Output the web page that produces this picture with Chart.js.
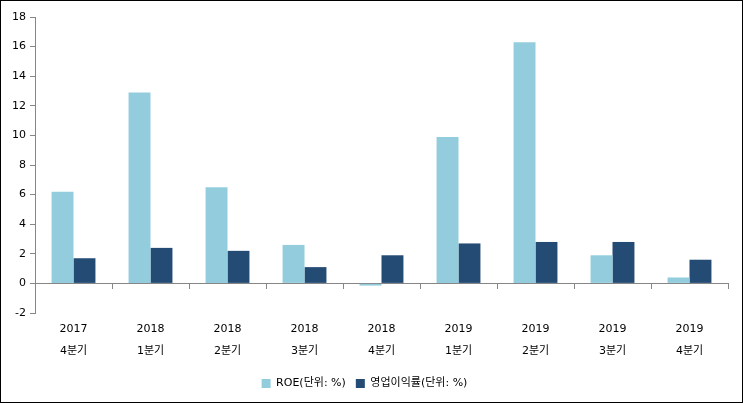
<!DOCTYPE html>
<html>
<head>
<meta charset="utf-8">
<script src="https://cdn.jsdelivr.net/npm/chart.js@4.4.1/dist/chart.umd.min.js"></script>
<style>
    html, body { margin: 0; padding: 0; background: #fff; }
    #wrap {
        width: 743px;
        height: 403px;
        box-sizing: border-box;
        border: 1px solid #000;
        position: relative;
    }
</style>
</head>
<body>
<div id="wrap"><canvas id="chart"></canvas></div>
<script>
// 분기 라벨
const years = ['2017', '2018', '2018', '2018', '2018', '2019', '2019', '2019', '2019'];
const quarters = ['4분기', '1분기', '2분기', '3분기', '4분기', '1분기', '2분기', '3분기', '4분기'];

// 시리즈 값 (단위: %)
const roeValues = [6.2, 12.9, 6.5, 2.6, -0.15, 9.9, 16.3, 1.9, 0.4];
const opMarginValues = [1.7, 2.4, 2.2, 1.1, 1.9, 2.7, 2.8, 2.8, 1.6];

// 축 눈금
const yMin = -2;
const yMax = 18;
const yStep = 2;

const labels = years.map((y, i) => [y, quarters[i]]);
const axisColor = '#868686';
const fontFamily = '"DejaVu Sans", "Noto Sans CJK KR", sans-serif';

const ctx = document.getElementById('chart').getContext('2d');

new Chart(ctx, {
    type: 'bar',
    data: {
        labels: labels,
        datasets: [{
            label: 'ROE(단위: %)',
            data: roeValues,
            backgroundColor: '#93CDDD',
            borderWidth: 0
        }, {
            label: '영업이익률(단위: %)',
            data: opMarginValues,
            backgroundColor: '#234B74',
            borderWidth: 0
        }]
    },
    options: {
        responsive: true,
        maintainAspectRatio: false,
        animation: false,
        datasets: {
            bar: {
                categoryPercentage: 0.57,
                barPercentage: 1
            }
        },
        layout: {
            padding: { top: 16, right: 14, bottom: 3, left: 0 }
        },
        scales: {
            x: {
                offset: true,
                grid: { display: false },
                border: { display: false },
                ticks: {
                    color: '#000',
                    padding: -3,
                    maxRotation: 0,
                    font: { family: fontFamily, size: 11, lineHeight: 2 }
                },
                afterFit: function(scale) {
                    scale.height = 55;
                }
            },
            // 0 기준선과 눈금 표시
            x2: {
                type: 'category',
                position: { y: 0 },
                offset: true,
                grid: {
                    offset: true,
                    drawOnChartArea: false,
                    drawTicks: true,
                    tickLength: 5,
                    color: axisColor
                },
                border: { display: true, color: axisColor },
                ticks: { display: false }
            },
            y: {
                min: yMin,
                max: yMax,
                grid: {
                    drawOnChartArea: false,
                    drawTicks: true,
                    tickLength: 5,
                    color: axisColor
                },
                border: { display: true, color: axisColor },
                ticks: {
                    stepSize: yStep,
                    color: '#000',
                    padding: 4,
                    font: { family: fontFamily, size: 11 }
                },
                afterFit: function(scale) {
                    scale.width = 34;
                }
            }
        },
        plugins: {
            legend: {
                position: 'bottom',
                labels: {
                    boxWidth: 9,
                    boxHeight: 9,
                    padding: 10,
                    color: '#000',
                    font: { family: fontFamily, size: 11 }
                }
            },
            tooltip: { enabled: false }
        }
    }
});
</script>
</body>
</html>
